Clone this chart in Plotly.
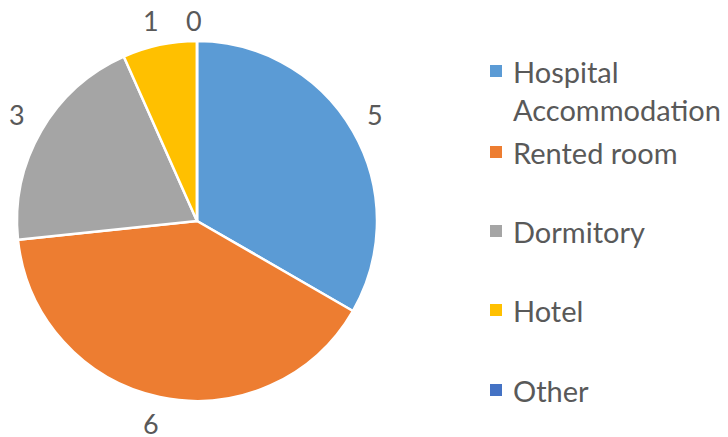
import math
import plotly.graph_objects as go

categories = ["Hospital Accommodation", "Rented room", "Dormitory", "Hotel", "Other"]
legend_labels = ["Hospital<br>Accommodation", "Rented room", "Dormitory", "Hotel", "Other"]
values = [5, 6, 3, 1, 0]
colors = ["#5B9BD5", "#ED7D31", "#A5A5A5", "#FFC000", "#4472C4"]

W, H = 728, 437
OFF = 8  # page body margin offset
FONT = "Lato"
TXT = "#595959"

# pie geometry in pixels (figure coordinates)
cx, cy, r = 197 - OFF, 221 - OFF, 180
dom_x = [(cx - r) / W, (cx + r) / W]
dom_y = [1 - (cy + r) / H, 1 - (cy - r) / H]

fig = go.Figure(go.Pie(
    labels=categories, values=values, sort=False, direction="clockwise",
    rotation=0, marker=dict(colors=colors, line=dict(color="white", width=2.5)),
    textinfo="none", hoverinfo="label+value", showlegend=False,
    domain=dict(x=dom_x, y=dom_y),
))

annotations = []
shapes = []
# data labels placed outside each slice at its mid angle
total = sum(values)
cum = 0
R_lab = 209
for v in values:
    mid = (cum + v / 2) / total * 2 * math.pi
    cum += v
    px = cx + R_lab * math.sin(mid) - 3
    py = cy - R_lab * math.cos(mid) - 2
    px = max(px, 9)
    py = min(max(py, 12), H - 12)  # keep labels inside the visible page
    annotations.append(dict(x=px / W, y=1 - py / H, xref="paper", yref="paper",
                            text=str(v), showarrow=False, xanchor="center", yanchor="middle",
                            borderpad=0, height=22, valign="middle",
                            font=dict(family=FONT, size=27, color=TXT)))

# legend
leg_y = [71, 152, 231, 310, 390]
for lab, col, ly in zip(legend_labels, colors, leg_y):
    ly = ly - OFF
    shapes.append(dict(type="rect", xref="paper", yref="paper",
                       x0=(490 - OFF) / W, x1=(502 - OFF) / W,
                       y0=1 - (ly + 6) / H, y1=1 - (ly - 6) / H,
                       fillcolor=col, line=dict(width=0)))
    annotations.append(dict(x=(511 - OFF) / W, y=1 - (ly - 19) / H, xref="paper", yref="paper",
                            text=lab, showarrow=False, xanchor="left", yanchor="top",
                            align="left",
                            font=dict(family=FONT, size=29, color=TXT)))

fig.update_layout(width=W, height=H, margin=dict(l=0, r=0, t=0, b=0),
                  paper_bgcolor="white", plot_bgcolor="white",
                  annotations=annotations, shapes=shapes)
fig.write_html("out.html")
